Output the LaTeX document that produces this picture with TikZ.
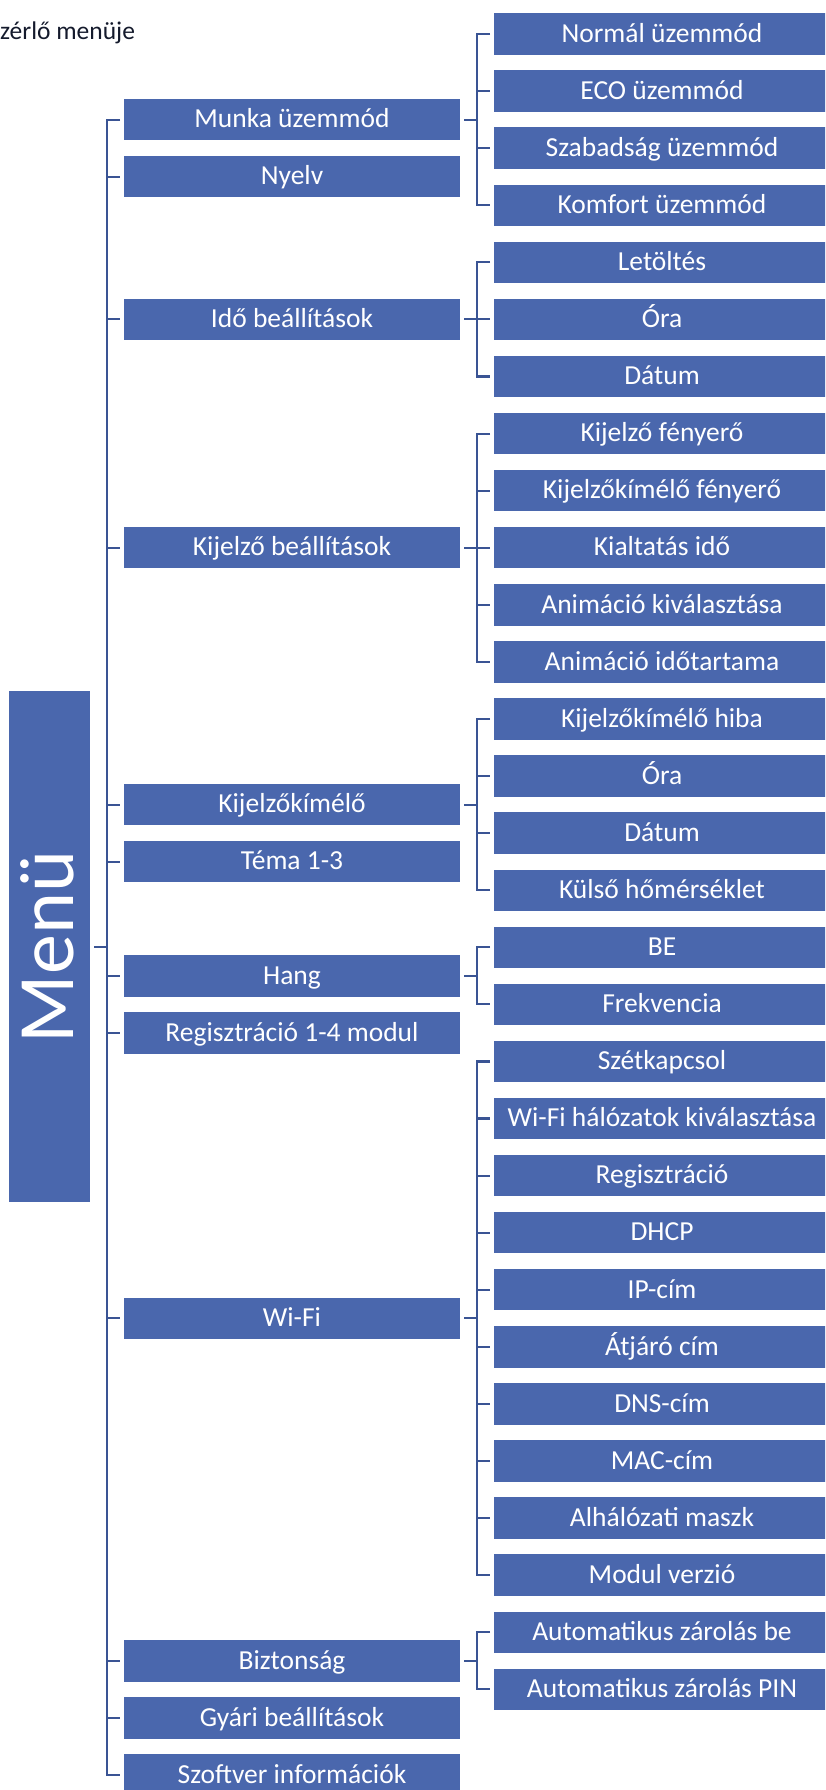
\documentclass[tikz,border=0pt]{standalone}
\usepackage{fontspec}
\setmainfont{Carlito}
\definecolor{boxblue}{RGB}{74,103,173}
\definecolor{linblue}{RGB}{58,84,148}
\definecolor{titlecol}{RGB}{20,26,44}
\begin{document}
\begin{tikzpicture}[x=1pt,y=-1pt,
  mainbox/.style={fill=boxblue, draw=none, minimum width=336pt, minimum height=41.4pt,
    inner sep=0pt, outer xsep=4pt, outer ysep=0pt, text=white,
    font=\fontsize{27.5}{30}\selectfont, text height=17.9pt, text depth=1.4pt},
  subbox/.style={mainbox},
  menubox/.style={fill=boxblue, draw=none, minimum width=511pt, minimum height=81pt,
    inner sep=0pt, outer ysep=4pt, outer xsep=0pt, text=white, rotate=90,
    font=\fontsize{80}{90}\selectfont, text height=52pt, text depth=3.2pt},
  conn/.style={draw=linblue, line width=2.1pt}]
\useasboundingbox (0,0) rectangle (825,1790);
\clip (0,0) rectangle (825,1790);

\node[anchor=base west, inner sep=0pt, text=titlecol, font=\fontsize{25.5}{30}\selectfont] (title) at (0,39.3) {zérlő menüje};

\node[menubox] (menu) at (49.5,946.9) {Menü};

\coordinate (tx) at (106.7,0);
\coordinate (sx) at (476.7,0);

% main items
\node[mainbox] (munka) at (292,34+57.08*1.5) {Munka üzemmód};
\node[mainbox] (nyelv) at (292,34+57.08*2.5) {Nyelv};
\node[mainbox] (ido)   at (292,34+57.08*5) {Idő beállítások};
\node[mainbox] (kijb)  at (292,34+57.08*9) {Kijelző beállítások};
\node[mainbox] (kijk)  at (292,34+57.08*13.5) {Kijelzőkímélő};
\node[mainbox] (tema)  at (292,34+57.08*14.5) {Téma 1-3};
\node[mainbox] (hang)  at (292,34+57.08*16.5) {Hang};
\node[mainbox] (regi)  at (292,34+57.08*17.5) {Regisztráció 1-4 modul};
\node[mainbox] (wifi)  at (292,34+57.08*22.5) {Wi-Fi};
\node[mainbox] (bizt)  at (292,34+57.08*28.5) {Biztonság};
\node[mainbox] (gyari) at (292,34+57.08*29.5) {Gyári beállítások};
\node[mainbox] (szoft) at (292,34+57.08*30.5) {Szoftver információk};

% sub items
\foreach \i/\t in {0/Normál üzemmód, 1/ECO üzemmód, 2/Szabadság üzemmód, 3/Komfort üzemmód,
  4/Letöltés, 5/Óra, 6/Dátum,
  7/Kijelző fényerő, 8/Kijelzőkímélő fényerő, 9/Kialtatás idő, 10/Animáció kiválasztása, 11/Animáció időtartama,
  12/Kijelzőkímélő hiba, 13/Óra, 14/Dátum, 15/Külső hőmérséklet,
  16/BE, 17/Frekvencia,
  18/Szétkapcsol, 19/Wi-Fi hálózatok kiválasztása, 20/Regisztráció, 21/DHCP, 22/IP-cím,
  23/Átjáró cím, 24/DNS-cím, 25/MAC-cím, 26/Alhálózati maszk, 27/Modul verzió,
  28/Automatikus zárolás be, 29/Automatikus zárolás PIN}
  \node[subbox] (s\i) at (662,34+57.08*\i) {\t};

% trunk
\draw[conn] (menu.south) -- (tx |- menu.south);
\draw[conn] (munka.west) -- (tx |- munka.west) -- (tx |- szoft.west) -- (szoft.west);
\foreach \m in {nyelv,ido,kijb,kijk,tema,hang,regi,wifi,bizt,gyari}
  \draw[conn] (tx |- \m.west) -- (\m.west);

% sub groups
\foreach \p/\a/\b in {munka/0/3, ido/4/6, kijb/7/11, kijk/12/15, hang/16/17, wifi/18/27, bizt/28/29} {
  \draw[conn] (\p.east) -- (sx |- \p.east);
  \draw[conn] (s\a.west) -- (sx |- s\a.west) -- (sx |- s\b.west) -- (s\b.west);
}
\foreach \i in {1,2,5,8,9,10,13,14,19,20,21,22,23,24,25,26}
  \draw[conn] (sx |- s\i.west) -- (s\i.west);
\end{tikzpicture}
\end{document}
